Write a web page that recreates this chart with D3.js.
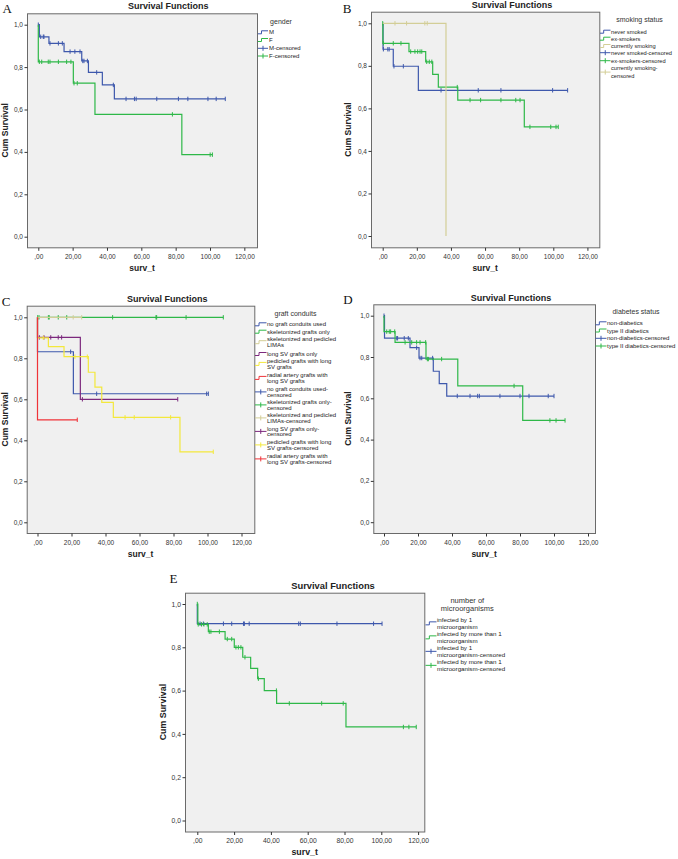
<!DOCTYPE html>
<html><head><meta charset="utf-8">
<script src="https://cdn.jsdelivr.net/npm/d3@7"></script>
<style>body{margin:0;background:#fff} text{font-family:"Liberation Sans",Arial,sans-serif}</style>
</head><body><svg id="c" width="678" height="859"></svg>
<script>
// ---------- data ----------
const xTickValues = [0, 20, 40, 60, 80, 100, 120];
const yTickValues = [0, 0.2, 0.4, 0.6, 0.8, 1.0];

// A – gender
const genderLegend = [["M"], ["F"], ["M-censored"], ["F-censored"]];
const maleSteps = [[0.6,0.943],[6.2,0.912],[15,0.873],[25.3,0.829],[29.2,0.775],[37.3,0.716],[44.3,0.65]];
const maleCensored = [0,1.4,2.9,3.3,6.8,11.7,14,18.5,21.3,24.3,25.9,26.6,28.6,34,43.7,51.1,56,57,69,81.6,87.1,98.8,103.6,108.9];
const femaleSteps = [[0,0.825],[20.4,0.724],[33,0.577],[83.6,0.387]];
const femaleCensored = [0.6,2,5.8,6.8,11.7,16.5,19,20.8,22.7,78.1,100.1,101.4];

// B – smoking status
const smokingLegend = [["never smoked"], ["ex-smokers"], ["currently smoking"], ["never smoked-censored"], ["ex-smokers-censored"], ["currently smoking-", "censored"]];
const neverSteps = [[0.2,0.878],[6.2,0.798],[20.9,0.685]];
const neverCensored = [0.4,3,3.8,6.6,12.1,34.2,56,69.3,99.6,108.4];
const exSteps = [[0.1,0.906],[15.4,0.867],[25.2,0.819],[29.3,0.76],[32.6,0.70],[44,0.639],[83,0.513]];
const exCensored = [0,0.4,6.2,10.7,16.4,18.9,20.5,21.9,22.9,25.8,27.3,28.8,43.7,51.2,57.4,69.3,78,80.5,86.3,98.5,101.6,102.9];
const currentSteps = [[37.1,0]];
const currentCensored = [7.2,14,24.7,26.1];

// C – graft conduits
const graftLegend = [
  ["no graft conduits used"], ["skeletonized grafts only"], ["skeletonized and pedicled", "LIMAs"],
  ["long SV grafts only"], ["pedicled grafts with long", "SV grafts"], ["radial artery grafts with", "long SV grafts"],
  ["no graft conduits used-", "censored"], ["skeletonized grafts only-", "censored"], ["skeletonized and pedicled", "LIMAs-censored"],
  ["long SV grafts only-", "censored"], ["pedicled grafts with long", "SV grafts-censored"], ["radial artery grafts with", "long SV grafts-censored"]];
const noGraftSteps = [[0,0.832],[21.1,0.627]];
const noGraftCensored = [19.5,34.8,99.5,100.5];
const skelSteps = [];
const skelCensored = [0.1,0.9,6.4,6.9,12.2,17.2,44.2,69.7,70.1,87.4,109.3];
const skelPedSteps = [];
const skelPedCensored = [21,26];
const longSvSteps = [[0,0.902],[25.2,0.6]];
const longSvCensored = [1.1,3.8,7.8,12.2,14.2,26.4,82.5];
const pedLongSteps = [[0,0.9],[6.4,0.857],[15.6,0.808],[29.9,0.732],[33.8,0.659],[37.8,0.585],[44.6,0.512],[83.8,0.344]];
const pedLongCensored = [3.4,22,29.3,51.5,56.9,78.3,103.4];
const radialSteps = [[0,0.5]];
const radialCensored = [23.4];

// D – diabetes status
const diabetesLegend = [["non-diabetics"], ["type II diabetics"], ["non-diabetics-censored"], ["type II diabetics-censored"]];
const nonDiabSteps = [[0.3,0.891],[15.3,0.845],[20.6,0.795],[29,0.731],[32.5,0.671],[36.9,0.611]];
const nonDiabCensored = [0,7.5,8,11.9,14.3,19.2,21.2,22.2,28.6,43.1,50.6,55.1,56.1,68.2,80,85.3,96.6,100];
const type2Steps = [[0,0.923],[6.5,0.871],[24.7,0.79],[43.4,0.66],[81.6,0.493]];
const type2Censored = [1.6,3.1,3.9,6.3,12.4,16.3,19.2,21.2,24.5,25.5,26.1,33.9,76.5,97.6,101.2,106.5];

// E – number of microorganisms
const microLegendTitle = ["number of", "microorganisms"];
const microLegend = [["infected by 1", "microorganism"], ["infected by more than 1", "microorganism"], ["infected by 1", "microorganism-censored"], ["infected by more than 1", "microorganism-censored"]];
const oneMicroSteps = [[0,0.909]];
const oneMicroCensored = [1.5,3.3,14.2,18.7,25.1,25.6,28.2,55.1,56,75.9,95.8,100.4];
const multiMicroSteps = [[0.3,0.906],[6,0.872],[15.1,0.838],[20.1,0.80],[24.7,0.754],[29,0.703],[32.8,0.655],[36.4,0.60],[43.1,0.541],[80.8,0.432]];
const multiMicroCensored = [0,0.5,2.3,3.6,5.4,6.5,7.4,12,16.3,18.7,21,22.3,23.7,25.9,33.2,43,50,67.6,79.3,112,115,119];

// ---------- styles ----------
const C = {blue:"#3E58AC", green:"#2EB848", beige:"#D3CE97", purple:"#7C287D", yellow:"#F3E83C", red:"#EF3338"};

const svg = d3.select("#c");
const fmtX = v => v === 0 ? ",00" : d3.format(".2f")(v).replace(".", ",");
const fmtY = v => d3.format(".1f")(v).replace(".", ",");
function survAt(steps, t) { let s = 1; for (const [st, sv] of steps) if (st <= t) s = sv; return s; }

function drawPanel(P, series, L, legendLines) {
  const g = svg.append("g");
  const k = P.k || 1;
  const x = d3.scaleLinear().domain([0, 100]).range([P.x0, P.x100]);
  const y = d3.scaleLinear().domain([0, 1]).range([P.y0, P.y1]);
  const [fx0, fy0, fx1, fy1] = P.frame;
  g.append("rect").attr("x", fx0 + .5).attr("y", fy0 + .5).attr("width", fx1 - fx0).attr("height", fy1 - fy0)
    .attr("fill", "#f0f0f0").attr("stroke", "#6a6a6a").attr("stroke-width", 1);

  const ax = g.append("g").attr("transform", `translate(0,${fy1 + .5})`)
    .call(d3.axisBottom(x).tickValues(xTickValues).tickFormat(fmtX).tickSize(3).tickPadding(3.5));
  const ay = g.append("g").attr("transform", `translate(${fx0 + .5},0)`)
    .call(d3.axisLeft(y).tickValues(yTickValues).tickFormat(fmtY).tickSize(3).tickPadding(1.5));
  [ax, ay].forEach(a => {
    a.select(".domain").remove();
    a.attr("font-family", null).attr("font-size", null);
    a.selectAll("line").attr("stroke", "#333");
    a.selectAll("text").attr("font-size", 6.5 * k).attr("fill", "#333");
  });

  // titles
  g.append("text").attr("x", P.title[0]).attr("y", P.title[1]).attr("text-anchor", "middle")
    .attr("font-weight", "bold").attr("font-size", 9 * k).attr("fill", "#222").text("Survival Functions");
  g.append("text").attr("x", P.letter[0]).attr("y", P.letter[1])
    .style("font-family", "'Liberation Serif', 'Times New Roman', serif")
    .attr("font-size", 13).attr("fill", "#111").text(P.name);
  g.append("text").attr("transform", `translate(${P.yTitleX},${(fy0 + fy1) / 2}) rotate(-90)`).attr("dy", "0.35em")
    .attr("text-anchor", "middle").attr("font-weight", "bold").attr("font-size", 8.5 * k).attr("fill", "#222").text("Cum Survival");
  g.append("text").attr("x", (fx0 + fx1) / 2).attr("y", P.xTitleY).attr("text-anchor", "middle")
    .attr("font-weight", "bold").attr("font-size", 8.5 * k).attr("fill", "#222").text("surv_t");

  // curves
  const line = d3.line().x(d => x(d[0])).y(d => y(d[1])).curve(d3.curveStepAfter);
  series.forEach(s => {
    const lastT = Math.max(s.steps.length ? s.steps[s.steps.length - 1][0] : 0, d3.max(s.censored) || 0);
    const pts = [[0, 1], ...s.steps, [lastT, survAt(s.steps, lastT)]];
    g.append("path").attr("d", line(pts)).attr("fill", "none").attr("stroke", s.color).attr("stroke-width", 1.2);
    g.selectAll(null).data(s.censored).join("line")
      .attr("x1", t => x(t)).attr("x2", t => x(t))
      .attr("y1", t => y(survAt(s.steps, t)) - 2.2).attr("y2", t => y(survAt(s.steps, t)) + 2.2)
      .attr("stroke", s.color).attr("stroke-width", 1);
  });

  // legend
  const lg = g.append("g");
  L.title.forEach((t, i) => lg.append("text").attr("x", L.titleX).attr("y", L.titleY + i * L.titleLh)
    .attr("text-anchor", "middle").attr("font-size", L.titleFs).attr("fill", "#333").text(t));
  const n = series.length;
  legendLines.forEach((lines, i) => {
    const s = series[i % n];
    const censor = i >= n;
    const y0 = L.itemY[i];
    lines.forEach((ln, j) => lg.append("text").attr("x", L.textX).attr("y", y0 + j * L.lh).attr("dy", "0.35em")
      .attr("font-size", L.fs).attr("fill", "#222").text(ln));
    const yc = y0 + (lines.length - 1) * L.lh / 2;
    const [ix0, ix1] = L.iconX;
    if (!censor) {
      const xm = ix0 + (ix1 - ix0) * 0.35;
      lg.append("path").attr("d", `M${ix0},${yc + 1.5}H${xm}V${yc - 1.5}H${ix1}`)
        .attr("fill", "none").attr("stroke", s.color).attr("stroke-width", 1);
    } else {
      lg.append("line").attr("x1", ix0).attr("x2", ix1).attr("y1", yc).attr("y2", yc).attr("stroke", s.color).attr("stroke-width", 1);
      const xm = (ix0 + ix1) / 2;
      lg.append("line").attr("x1", xm).attr("x2", xm).attr("y1", yc - 2.5).attr("y2", yc + 2.5).attr("stroke", s.color).attr("stroke-width", 1);
    }
  });
}

// ---------- panels ----------
drawPanel(
  {name: "A", frame: [27, 13.3, 257, 247.3], x0: 38.3, x100: 210, y0: 236.7, y1: 24.7, title: [168.3, 8.8], letter: [2.5, 12.7], yTitleX: 5.5, xTitleY: 271},
  [{steps: maleSteps, censored: maleCensored, color: C.blue}, {steps: femaleSteps, censored: femaleCensored, color: C.green}],
  {title: ["gender"], titleX: 281, titleY: 23.5, titleLh: 8, titleFs: 7, textX: 269, iconX: [258, 268], fs: 6, lh: 6, itemY: [32.3, 40, 48.3, 56]},
  genderLegend);

drawPanel(
  {name: "B", frame: [371, 11.7, 599.3, 247.3], x0: 382.7, x100: 553.3, y0: 236, y1: 23.3, title: [512, 7.6], letter: [342.7, 12.7], yTitleX: 348.5, xTitleY: 271},
  [{steps: neverSteps, censored: neverCensored, color: C.blue}, {steps: exSteps, censored: exCensored, color: C.green}, {steps: currentSteps, censored: currentCensored, color: C.beige}],
  {title: ["smoking status"], titleX: 639.5, titleY: 22, titleLh: 8, titleFs: 7, textX: 611, iconX: [600, 610.5], fs: 5.7, lh: 7.2, itemY: [31.7, 38.7, 46, 52.7, 60.7, 68.5]},
  smokingLegend);

drawPanel(
  {name: "C", frame: [26.7, 305.7, 254.3, 533], x0: 37.5, x100: 207.5, y0: 522.3, y1: 317.3, title: [167.2, 302], letter: [1.7, 305.7], yTitleX: 5.5, xTitleY: 557},
  [{steps: noGraftSteps, censored: noGraftCensored, color: C.blue}, {steps: skelSteps, censored: skelCensored, color: C.green},
   {steps: skelPedSteps, censored: skelPedCensored, color: C.beige}, {steps: longSvSteps, censored: longSvCensored, color: C.purple},
   {steps: pedLongSteps, censored: pedLongCensored, color: C.yellow}, {steps: radialSteps, censored: radialCensored, color: C.red}],
  {title: ["graft conduits"], titleX: 295.5, titleY: 315.5, titleLh: 8, titleFs: 7, textX: 267, iconX: [255, 266.5], fs: 6, lh: 5.8,
   itemY: [324.3, 331.7, 339.3, 354, 361, 375, 389, 402, 415, 428.5, 442, 456]},
  graftLegend);

drawPanel(
  {name: "D", frame: [373.3, 304.3, 595, 533], x0: 384, x100: 554, y0: 522.2, y1: 315.7, title: [511, 300.5], letter: [343.3, 304.3], yTitleX: 348, xTitleY: 557},
  [{steps: nonDiabSteps, censored: nonDiabCensored, color: C.blue}, {steps: type2Steps, censored: type2Censored, color: C.green}],
  {title: ["diabetes status"], titleX: 636, titleY: 314, titleLh: 8, titleFs: 7, textX: 607, iconX: [595.5, 606.5], fs: 6, lh: 6, itemY: [323.3, 330.5, 338.3, 346]},
  diabetesLegend);

drawPanel(
  {name: "E", k: 1.04, frame: [185, 592.7, 424.3, 831.5], x0: 197.3, x100: 381.3, y0: 820.5, y1: 604, title: [333, 588.5], letter: [169.5, 583], yTitleX: 163, xTitleY: 855},
  [{steps: oneMicroSteps, censored: oneMicroCensored, color: C.blue}, {steps: multiMicroSteps, censored: multiMicroCensored, color: C.green}],
  {title: microLegendTitle, titleX: 467.3, titleY: 602.7, titleLh: 8.2, titleFs: 7.5, textX: 437, iconX: [425.5, 436.5], fs: 6.2, lh: 6.7, itemY: [620, 634, 648, 662]},
  microLegend);
</script></body></html>
